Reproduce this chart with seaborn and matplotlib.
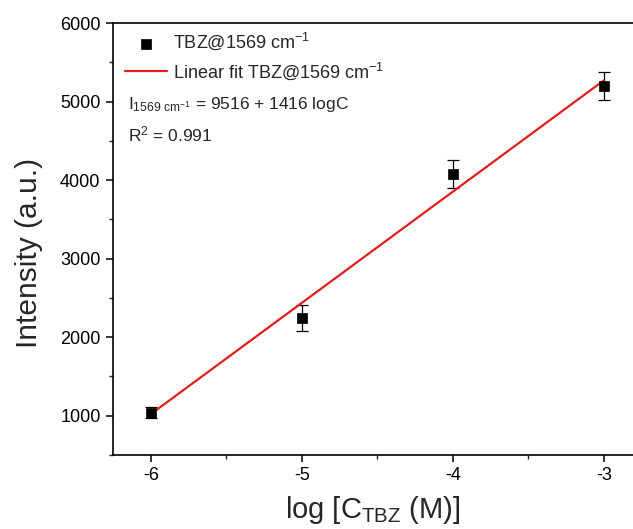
import matplotlib
matplotlib.use("Agg")
import matplotlib.pyplot as plt
import seaborn as sns
import numpy as np
import pandas as pd
from matplotlib.ticker import MultipleLocator

# Measured intensities of the 1569 cm-1 band versus log concentration
log_conc = [-6, -5, -4, -3]
intensity = [1040, 2245, 4080, 5200]
intensity_err = [75, 160, 175, 175]

# Linear fit reported on the chart
fit_intercept = 9516
fit_slope = 1416
r_squared = 0.991

sns.set_theme(style="ticks")
plt.rcParams["font.family"] = ["Liberation Sans", "DejaVu Sans"]
plt.rcParams["mathtext.fontset"] = "custom"
plt.rcParams["mathtext.rm"] = "Liberation Sans"
plt.rcParams["mathtext.it"] = "Liberation Sans:italic"
plt.rcParams["mathtext.bf"] = "Liberation Sans:bold"

df = pd.DataFrame({"logC": log_conc, "I": intensity, "err": intensity_err})
fit_x = np.array([min(log_conc), max(log_conc)])
fit_df = pd.DataFrame({"logC": fit_x, "I": fit_intercept + fit_slope * fit_x})

W_PX, H_PX = 633, 529
ax_left, ax_bottom, ax_w, ax_h = 113, 74, 566, 432
px_per_unit = 151.0

fig = plt.figure(figsize=(W_PX / 100, H_PX / 100), dpi=100)
fig.patch.set_facecolor("white")
ax = fig.add_axes([ax_left / W_PX, ax_bottom / H_PX, ax_w / W_PX, ax_h / H_PX])
ax.set_facecolor("white")

ax.errorbar(df["logC"], df["I"], yerr=df["err"], fmt="none", ecolor="black",
            elinewidth=0.9, capsize=4, capthick=0.9, zorder=2)
sns.lineplot(data=fit_df, x="logC", y="I", ax=ax, color="#E01E1E", linewidth=1.6,
             label="Linear fit TBZ@1569 cm$^{-1}$", zorder=3)
sns.scatterplot(data=df, x="logC", y="I", ax=ax, marker="s", s=46, color="black",
                edgecolor="black", linewidth=0.5, label="TBZ@1569 cm$^{-1}$", zorder=4)

x_lo = -6.25
ax.set_xlim(x_lo, x_lo + ax_w / px_per_unit)
ax.set_ylim(500, 6000)
ax.xaxis.set_major_locator(MultipleLocator(1))
ax.xaxis.set_minor_locator(MultipleLocator(0.5))
ax.yaxis.set_major_locator(MultipleLocator(1000))
ax.yaxis.set_minor_locator(MultipleLocator(500))
ax.set_xticks([-6, -5, -4, -3])
ax.set_xticklabels(["-6", "-5", "-4", "-3"])
ax.set_yticks([1000, 2000, 3000, 4000, 5000, 6000])

for side in ax.spines:
    ax.spines[side].set_visible(True)
    ax.spines[side].set_linewidth(1.2)
    ax.spines[side].set_color("black")

ax.tick_params(axis="both", which="major", direction="out", length=5, width=1.1,
               labelsize=13, pad=4, colors="black")
ax.tick_params(axis="both", which="minor", direction="out", length=3, width=1.0)
ax.tick_params(top=False, right=False, which="both")

ax.set_xlabel("log [C$_{\\mathregular{TBZ}}$ (M)]", fontsize=21)
ax.set_ylabel("Intensity (a.u.)", fontsize=21.5)
ax.xaxis.set_label_coords((373 - ax_left) / ax_w, (455 - 494) / ax_h)
ax.yaxis.set_label_coords((43 - ax_left) / ax_w, (455 - 253) / ax_h)

handles, labels = ax.get_legend_handles_labels()
order = [labels.index("TBZ@1569 cm$^{-1}$"), labels.index("Linear fit TBZ@1569 cm$^{-1}$")]
ax.legend([handles[i] for i in order], [labels[i] for i in order],
          loc="upper left",
          bbox_to_anchor=((125 - ax_left) / ax_w, 1.0 - (31 - 23) / ax_h),
          frameon=False, fontsize=13, handlelength=2.3, handletextpad=0.35,
          labelspacing=0.42, borderaxespad=0.0, borderpad=0.0)

ax.text((128 - ax_left) / ax_w, (455 - 104) / ax_h,
        "I$_{\\mathregular{1569\\ cm^{-1}}}$ = 9516 + 1416 logC",
        transform=ax.transAxes, fontsize=12.5, ha="left", va="center")
ax.text((128 - ax_left) / ax_w, (455 - 134) / ax_h, f"R$^{{\\mathregular{{2}}}}$ = {r_squared}",
        transform=ax.transAxes, fontsize=12.5, ha="left", va="center")

fig.savefig("out.png", dpi=100, facecolor="white")
